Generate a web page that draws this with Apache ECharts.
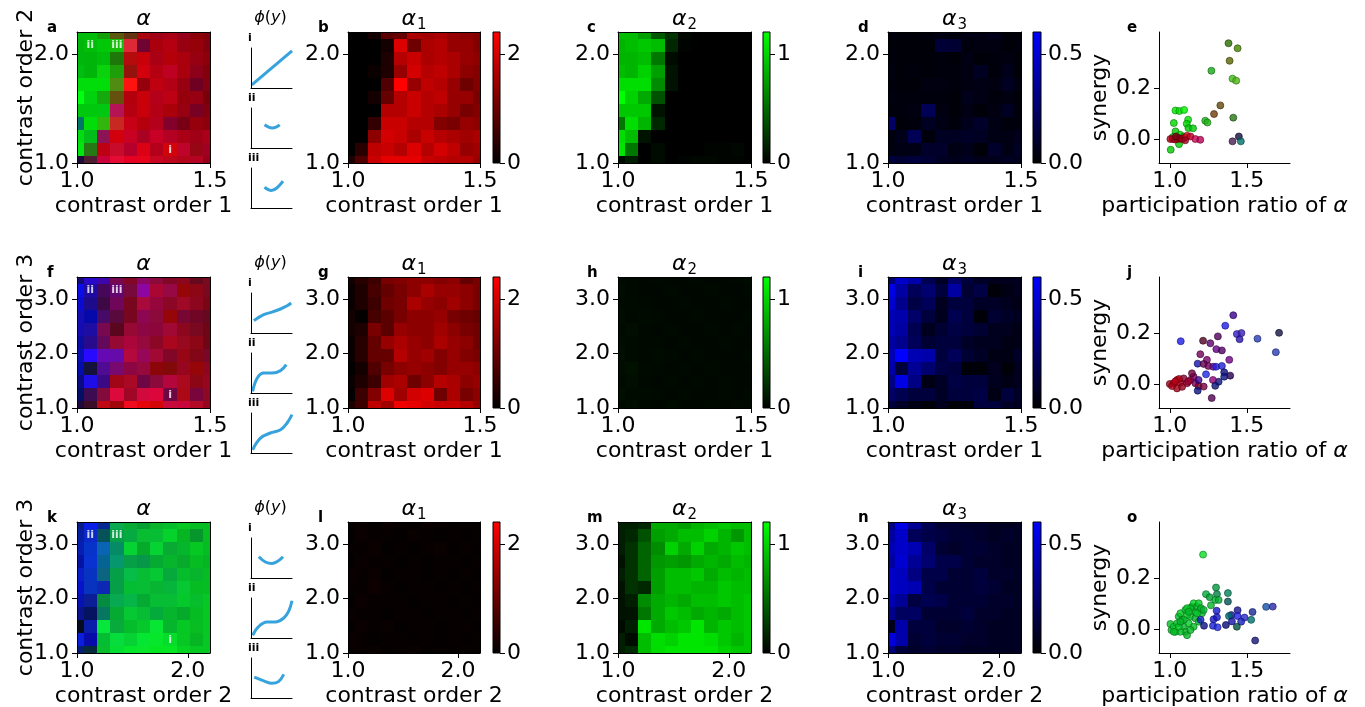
<!DOCTYPE html>
<html><head><meta charset="utf-8">
<script src="https://cdn.jsdelivr.net/npm/echarts@6/dist/echarts.min.js"></script>
<style>html,body{margin:0;padding:0;background:#fff}#c{width:1365px;height:707px}</style>
</head><body><div id="c"></div>
<script>
// ---------------- DATA ----------------
// matrices: rows listed from top (largest y) to bottom (y = 1.0); columns from x = 1.0 upward
const xStep = [0.05, 0.05, 0.12];
const yStep = [0.12, 0.24, 0.24];
const xMaxes = [1.5, 1.5, 2.2];
const yMaxes = [2.2, 3.4, 3.4];
const xTickVals = [[1.0, 1.5], [1.0, 1.5], [1.0, 2.0]];
const yTickVals = [[1.0, 2.0], [1.0, 2.0, 3.0], [1.0, 2.0, 3.0]];
const xNames = ['contrast order 1', 'contrast order 1', 'contrast order 2'];
const yNames = ['contrast order 2', 'contrast order 3', 'contrast order 3'];
const panelLetters = [['a','b','c','d','e'], ['f','g','h','i','j'], ['k','l','m','n','o']];
const channelMax = [2.4, 1.2, 0.6];
const cbTicks = [[0, 2], [0, 1], [0, 0.5]];
const scatterXTicks = [1.0, 1.5];
const scatterYTicks = [0.0, 0.2];
// marked cells: [label, column index, row index from bottom]
const markedCells = [['ii', 1, 9], ['iii', 3, 9], ['i', 7, 1]];

const alpha1_r1 = [
 [0,0,0.19,0.85,0.94,1.6,1.51,1.6,1.41,1.32,1.22],
 [0,0,0,0.19,2.07,1.04,1.6,1.69,1.41,1.41,1.22],
 [0,0,0,0.28,1.69,1.88,1.6,1.69,1.6,1.41,1.32],
 [0,0,0.09,0.28,1.41,1.98,1.69,1.79,1.6,1.32,1.22],
 [0,0,0,0.75,2.4,1.41,1.79,1.69,1.41,1.04,1.22],
 [0,0,0.19,0.94,1.69,1.88,1.69,1.79,1.41,1.41,1.13],
 [0,0,0,1.69,1.69,1.88,1.69,1.6,1.41,1.13,1.22],
 [0,0,0.47,1.88,1.88,1.69,1.69,1.22,1.13,1.41,1.32],
 [0,0,1.32,1.98,1.88,1.6,1.88,1.69,1.6,1.51,1.6],
 [0,0.38,1.79,1.88,1.69,2.07,1.69,1.98,1.79,1.41,1.51],
 [0.28,0.75,1.88,2.16,2.16,2.16,1.88,1.79,1.69,1.69,1.41]];
const alpha2_r1 = [
 [0.89,0.89,0.75,0.42,0.24,0.03,0,0,0,0,0],
 [0.85,0.89,0.94,0.89,0.19,0.02,0,0,0,0,0],
 [0.85,0.85,0.89,0.56,0.05,0,0,0,0,0,0],
 [0.89,0.85,0.99,0.75,0.09,0,0,0,0,0,0],
 [1.04,1.04,1.04,0.66,0.09,0,0,0,0,0,0],
 [1.2,0.99,0.8,0.38,0,0,0,0,0,0,0],
 [0.94,0.94,0.94,0.09,0,0,0,0,0,0,0],
 [0.56,1.04,0.85,0.19,0,0,0,0,0,0,0],
 [1.04,0.89,0.09,0,0,0,0,0,0,0,0],
 [1.08,0.56,0,0.05,0,0,0,0.02,0.02,0.03,0],
 [0.05,0.14,0,0.05,0,0.02,0.03,0.03,0.02,0.02,0]];
const alpha3_r1 = [
 [0.03,0.02,0.02,0.03,0.04,0.03,0.05,0.05,0.06,0.02,0.02],
 [0.02,0.02,0.02,0.02,0.13,0.12,0.03,0.04,0.04,0.02,0.03],
 [0.03,0.02,0.02,0.02,0.03,0.02,0.05,0.02,0.03,0.04,0.02],
 [0.04,0.02,0.03,0.02,0.03,0.03,0.04,0.08,0.03,0.06,0.02],
 [0.03,0.02,0.02,0.04,0.04,0.03,0.04,0.05,0.04,0.08,0.04],
 [0.04,0.03,0.03,0.03,0.03,0.02,0.06,0.05,0.03,0.04,0.02],
 [0.03,0.03,0.04,0.2,0.04,0.02,0.05,0.02,0.04,0.08,0.03],
 [0.24,0.02,0.03,0.08,0.05,0.03,0.06,0.1,0.05,0.03,0.03],
 [0.04,0.06,0.2,0.03,0.08,0.08,0.09,0.08,0.05,0.05,0.06],
 [0.04,0.05,0.05,0.1,0.1,0.05,0.06,0.02,0.1,0.05,0.08],
 [0.14,0.12,0.14,0.12,0.08,0.06,0.08,0.06,0.06,0.08,0.06]];

const alpha1_r2 = [
 [0.19,0.38,0.56,1.13,1.22,1.32,1.32,1.22,1.32,0.94,1.13],
 [0.09,0.28,0.66,0.94,1.13,1.32,1.6,1.41,1.41,1.32,1.13],
 [0.09,0.28,0.56,1.04,1.13,1.6,1.41,1.32,1.51,1.32,1.13],
 [0.19,0.05,0.66,0.85,1.13,1.32,1.32,1.41,1.13,1.04,0.94],
 [0.19,0.28,1.13,0.85,1.41,1.32,1.32,1.51,1.32,1.13,1.04],
 [0.09,0.38,0.94,1.41,1.6,1.41,1.32,1.6,1.41,1.32,1.04],
 [0.09,0.38,0.94,0.94,1.69,1.41,1.51,1.22,1.41,1.22,1.13],
 [0.03,0.19,0.75,1.13,1.32,1.41,1.32,1.22,1.41,1.41,1.32],
 [0.09,0.28,0.56,1.51,1.6,1.04,1.32,1.69,1.6,1.32,1.41],
 [0.03,0.56,1.22,2.07,1.51,1.98,2.07,1.04,1.6,1.13,1.32],
 [0.28,0.56,1.79,1.51,2.26,2.16,1.98,1.88,1.88,1.69,1.41]];
const alpha2_r2 = [
 [0.05,0.04,0.03,0.04,0.03,0.03,0.04,0.03,0.03,0.04,0.05],
 [0.06,0.04,0.03,0.03,0.04,0.03,0.03,0.04,0.03,0.03,0.04],
 [0.05,0.05,0.04,0.03,0.03,0.04,0.03,0.03,0.04,0.03,0.03],
 [0.06,0.04,0.05,0.04,0.03,0.03,0.04,0.03,0.03,0.03,0.04],
 [0.05,0.06,0.04,0.03,0.04,0.03,0.03,0.04,0.03,0.04,0.03],
 [0.06,0.05,0.04,0.04,0.03,0.04,0.03,0.03,0.04,0.03,0.03],
 [0.07,0.05,0.04,0.05,0.04,0.03,0.04,0.03,0.03,0.03,0.04],
 [0.06,0.08,0.05,0.04,0.03,0.04,0.03,0.04,0.03,0.03,0.03],
 [0.05,0.06,0.04,0.03,0.04,0.03,0.04,0.03,0.04,0.03,0.03],
 [0.07,0.05,0.05,0.04,0.03,0.04,0.03,0.03,0.04,0.03,0.04],
 [0.05,0.06,0.04,0.03,0.05,0.03,0.03,0.04,0.03,0.04,0.03]];
const alpha3_r2 = [
 [0.28,0.47,0.4,0.19,0.09,0.24,0.14,0.09,0.07,0.07,0.07],
 [0.54,0.38,0.21,0.26,0.14,0.38,0.12,0.16,0.02,0.05,0.07],
 [0.49,0.33,0.16,0.21,0.07,0.14,0.14,0.09,0.09,0.07,0.05],
 [0.42,0.4,0.24,0.14,0.07,0.19,0.14,0.02,0.12,0.09,0.07],
 [0.42,0.38,0.19,0.07,0.12,0.16,0.14,0.12,0.07,0.07,0.05],
 [0.38,0.33,0.21,0.12,0.14,0.14,0.09,0.07,0.07,0.05,0.05],
 [0.42,0.6,0.42,0.4,0.14,0.21,0.12,0.09,0.05,0.05,0.09],
 [0.4,0.14,0.35,0.26,0.16,0.14,0.02,0.02,0.07,0.02,0.07],
 [0.31,0.54,0.31,0.05,0.09,0.16,0.14,0.14,0.07,0.05,0.07],
 [0.24,0.19,0.14,0.14,0.09,0.14,0.14,0.16,0.05,0.14,0.09],
 [0.14,0.09,0.05,0.02,0.07,0.02,0.02,0.14,0.14,0.09,0.07]];

const alpha1_r3 = [
 [0.06,0.08,0.05,0.1,0.07,0.05,0.08,0.06,0.05,0.06,0.05],
 [0.05,0.1,0.07,0.06,0.05,0.08,0.06,0.05,0.07,0.05,0.06],
 [0.07,0.06,0.09,0.05,0.06,0.05,0.07,0.08,0.05,0.06,0.05],
 [0.05,0.08,0.06,0.07,0.05,0.06,0.05,0.06,0.07,0.05,0.06],
 [0.09,0.06,0.1,0.05,0.06,0.07,0.05,0.06,0.05,0.06,0.05],
 [0.06,0.07,0.12,0.06,0.05,0.06,0.07,0.05,0.06,0.05,0.06],
 [0.05,0.1,0.06,0.07,0.06,0.05,0.06,0.07,0.05,0.06,0.05],
 [0.08,0.06,0.07,0.05,0.06,0.07,0.05,0.06,0.06,0.05,0.06],
 [0.05,0.09,0.06,0.08,0.05,0.06,0.07,0.05,0.06,0.07,0.05],
 [0.1,0.07,0.05,0.06,0.07,0.05,0.06,0.05,0.07,0.05,0.06],
 [0.07,0.06,0.08,0.05,0.06,0.08,0.05,0.06,0.05,0.06,0.05]];
const alpha2_r3 = [
 [0.14,0.14,0.19,0.8,0.8,0.75,0.85,0.89,0.94,0.89,0.89],
 [0.14,0.19,0.38,0.75,0.8,0.89,0.89,0.99,0.85,0.71,0.89],
 [0.14,0.24,0.47,0.66,0.99,0.8,0.99,0.8,0.85,0.94,0.89],
 [0.09,0.24,0.47,0.71,0.75,0.71,0.8,0.85,0.8,0.89,0.85],
 [0.14,0.24,0.47,0.75,0.89,0.89,0.94,0.8,0.89,0.85,0.89],
 [0.09,0.24,0.19,0.75,0.89,0.89,0.85,0.85,0.94,0.89,0.89],
 [0.09,0.14,0.66,0.8,0.85,0.8,0.89,0.89,0.94,0.89,0.94],
 [0.09,0.09,0.56,0.8,0.94,0.89,0.8,0.85,0.8,0.89,0.94],
 [0.05,0.14,1.08,0.8,0.89,0.94,1.08,0.85,0.94,0.89,0.94],
 [0.14,0.05,0.89,1.04,0.99,1.08,1.08,1.04,0.94,0.85,0.94],
 [0.14,0.2,0.89,1.04,1.08,1.08,1.08,1.08,0.99,0.94,0.94]];
const alpha3_r3 = [
 [0.31,0.54,0.35,0.19,0.12,0.12,0.1,0.1,0.08,0.08,0.08],
 [0.38,0.47,0.21,0.17,0.15,0.12,0.12,0.1,0.08,0.1,0.08],
 [0.42,0.47,0.42,0.24,0.12,0.1,0.12,0.12,0.1,0.08,0.08],
 [0.38,0.49,0.35,0.26,0.17,0.17,0.12,0.1,0.1,0.08,0.08],
 [0.47,0.45,0.3,0.17,0.17,0.12,0.12,0.14,0.1,0.1,0.08],
 [0.47,0.45,0.42,0.17,0.12,0.12,0.12,0.14,0.12,0.08,0.08],
 [0.42,0.35,0.15,0.19,0.17,0.12,0.12,0.12,0.1,0.1,0.08],
 [0.33,0.22,0.23,0.12,0.12,0.12,0.14,0.1,0.1,0.08,0.08],
 [0.07,0.4,0.14,0.14,0.1,0.1,0.12,0.1,0.08,0.08,0.08],
 [0.52,0.4,0.12,0.14,0.12,0.12,0.1,0.1,0.08,0.08,0.08],
 [0.28,0.14,0.1,0.12,0.1,0.1,0.08,0.08,0.08,0.08,0.08]];

// scatter: [participation ratio, synergy, alpha1, alpha2, alpha3]
const scatter_e = [
 [1.381,0.376,0.38,0.52,0],[1.44,0.356,0.66,0.61,0],[1.388,0.307,0.85,0.47,0],[1.27,0.268,0.19,0.8,0.05],
 [1.407,0.237,0.56,0.89,0.05],[1.431,0.229,0.75,0.85,0.05],[1.328,0.132,0.94,0.33,0.02],[1.287,0.098,1.04,0.28,0.02],
 [1.412,0.084,0.38,0.56,0.05],[1.23,0.072,0.28,0.85,0.05],[1.244,0.065,0.28,0.85,0.05],[1.037,0.112,0,1.08,0],
 [1.062,0.11,0,1.04,0],[1.093,0.114,0,1.13,0],[1.026,0.063,0,1.0,0],[1.119,0.076,0,1.04,0],[1.11,0.06,0,1.0,0],
 [1.121,0.043,0,0.94,0],[1.151,0.042,0,0.94,0.02],[1.037,0.03,0,0.94,0],[1.067,0.017,0,0.99,0],[1.06,-0.02,0,0.94,0],
 [1.006,-0.042,0,0.94,0],[1.02,0.008,0.1,0.85,0],[1.09,0.01,0,0.89,0],[1.05,0.005,0,0.9,0],
 [1.004,0.0,1.6,0,0.05],[1.02,0.0,1.8,0,0.07],[1.035,-0.002,1.5,0,0.05],[1.05,0.0,1.7,0,0.05],[1.065,0.002,1.3,0,0.05],
 [1.08,0.0,1.6,0,0.05],[1.095,0.005,1.4,0,0.05],[1.112,0.013,2.0,0.1,0.09],[1.134,0.01,1.8,0,0.07],[1.166,0.0,1.9,0,0.19],
 [1.198,-0.003,1.7,0,0.19],[1.1,-0.005,1.5,0,0.07],[1.04,0.01,1.2,0,0.05],
 [1.448,0.01,0.19,0.05,0.14],[1.407,-0.009,0.66,0.14,0.19],[1.461,-0.009,0,0.52,0.24]];
const scatter_j = [
 [1.0,0,1.4,0,0.05],[1.025,0.003,1.5,0,0.05],[1.047,0.016,1.3,0,0.09],[1.069,0.005,1.6,0,0.07],[1.09,0.022,1.2,0,0.12],
 [1.112,0.003,1.4,0,0.14],[1.134,0.016,1.3,0,0.19],[1.155,0.029,1.2,0,0.21],[1.166,0.003,1.1,0,0.19],[1.187,-0.008,1.2,0,0.09],
 [1.047,-0.017,1.5,0,0.05],[1.08,-0.011,1.4,0,0.07],[1.015,-0.008,1.6,0,0.05],[1.144,0.042,1.0,0,0.14],[1.06,0.02,1.7,0,0.05],
 [1.12,0.01,1.5,0,0.1],[1.035,0.01,1.8,0,0.05],
 [1.412,0.27,0.56,0,0.33],[1.36,0.229,0.28,0.14,0.54],[1.435,0.196,0.47,0.14,0.47],[1.465,0.2,0.56,0.14,0.42],
 [1.453,0.176,0.38,0.09,0.4],[1.569,0.178,0.38,0.28,0.42],[1.709,0.201,0.19,0.09,0.16],[1.688,0.125,0.38,0.28,0.42],
 [1.071,0.168,0.28,0.14,0.54],[1.216,0.17,0.75,0,0.09],[1.312,0.187,0.75,0,0.21],[1.263,0.16,0.85,0,0.24],
 [1.302,0.137,0.94,0,0.31],[1.338,0.132,0.75,0,0.24],[1.198,0.117,1.04,0,0.21],[1.241,0.095,1.13,0,0.24],
 [1.386,0.095,1.04,0,0.31],[1.181,0.08,0.19,0.09,0.4],[1.22,0.079,0.94,0,0.19],[1.25,0.071,1.0,0,0.2],
 [1.282,0.068,1.13,0,0.31],[1.3,0.068,0.28,0.14,0.54],[1.338,0.071,0.28,0.14,0.5],[1.353,0.046,0.1,0.05,0.3],
 [1.235,0.038,0.28,0.19,0.54],[1.392,0.033,0.38,0,0.19],[1.353,0.029,0.09,0.09,0.3],[1.317,0.009,0.09,0.09,0.3],
 [1.28,0.016,1.32,0,0.28],[1.295,-0.007,0.09,0.09,0.28],[1.181,-0.026,0.09,0.09,0.3],[1.272,-0.055,0.75,0,0.19],
 [1.187,0.016,0.56,0,0.33],[1.22,-0.01,1.1,0,0.15]];
const scatter_o = [
 [1.004,0.02,0.05,0.89,0.09],[1.011,-0.004,0.05,0.85,0.09],[1.026,0.009,0.05,0.94,0.1],[1.047,0.022,0.05,0.89,0.09],
 [1.058,0.049,0.05,0.85,0.1],[1.069,0.062,0.05,0.94,0.09],[1.08,0.036,0.05,0.89,0.09],[1.091,0.009,0.05,0.85,0.1],
 [1.101,-0.011,0.05,0.89,0.09],[1.112,-0.024,0.05,0.85,0.09],[1.123,0.022,0.05,0.94,0.1],[1.134,0.049,0.05,0.89,0.09],
 [1.144,0.088,0.05,0.94,0.09],[1.155,0.101,0.05,0.99,0.09],[1.166,0.068,0.05,0.89,0.1],[1.177,0.088,0.05,0.85,0.09],
 [1.188,0.101,0.05,0.94,0.09],[1.198,0.075,0.05,0.89,0.1],[1.209,0.062,0.05,0.85,0.12],[1.155,0.009,0.05,0.89,0.09],
 [1.134,-0.004,0.05,0.85,0.09],[1.069,-0.011,0.05,0.89,0.1],[1.037,-0.011,0.05,0.94,0.09],[1.101,0.075,0.05,0.89,0.09],
 [1.112,0.055,0.05,0.94,0.09],[1.166,0.042,0.05,0.85,0.1],[1.188,0.029,0.05,0.89,0.09],[1.058,0.009,0.05,0.94,0.09],
 [1.091,0.036,0.05,0.89,0.1],[1.134,0.082,0.05,0.85,0.09],[1.177,0.062,0.05,0.94,0.09],[1.203,0.082,0.05,0.89,0.1],
 [1.22,0.075,0.05,0.85,0.12],[1.026,-0.011,0.05,0.89,0.09],[1.112,0.082,0.05,0.94,0.09],[1.069,0.029,0.05,0.85,0.1],
 [1.123,0.068,0.05,0.89,0.09],
 [1.216,0.292,0.1,1.04,0.09],[1.3,0.163,0,0.71,0.14],[1.235,0.137,0,0.8,0.14],[1.259,0.125,0,0.75,0.12],
 [1.306,0.137,0,0.61,0.16],[1.377,0.141,0,0.61,0.21],[1.295,0.114,0.05,0.85,0.12],[1.317,0.114,0.05,0.8,0.12],
 [1.377,0.108,0,0.38,0.19],[1.267,0.093,0.05,0.85,0.1],[1.625,0.087,0.19,0.38,0.4],[1.668,0.088,0.38,0.19,0.4],
 [1.537,0.067,0.19,0.19,0.35],[1.44,0.074,0.19,0.09,0.33],[1.304,0.072,0.19,0.09,0.47],[1.399,0.055,0.19,0.09,0.35],
 [1.384,0.051,0,0.52,0.26],[1.485,0.045,0.38,0.19,0.47],[1.44,0.051,0.28,0.14,0.54],[1.528,0.036,0,0.52,0.26],
 [1.463,0.029,0.19,0.14,0.45],[1.284,0.038,0.19,0.09,0.47],[1.306,0.046,0.19,0.09,0.45],[1.364,0.016,0.09,0.05,0.28],
 [1.435,0.009,0,0.38,0.14],[1.28,0.013,0.19,0.14,0.5],[1.222,0.013,0.09,0.09,0.31],[1.2,0.036,0.19,0.14,0.45],
 [1.31,0.007,0.28,0.19,0.52],[1.554,-0.045,0.19,0.09,0.28],[1.403,0.03,0.19,0.09,0.4]];

// phi(y) curves, in each small panel's own unit box
const phi_a_i = [[0.02,0.08],[1.0,0.93]];
const phi_a_ii = [[0.33,0.58],[0.43,0.52],[0.52,0.5],[0.61,0.52],[0.7,0.58]];
const phi_a_iii = [[0.33,0.52],[0.42,0.46],[0.5,0.44],[0.63,0.5],[0.78,0.67]];
const phi_f_i = [[0.07,0.31],[0.31,0.46],[0.51,0.52],[0.72,0.6],[0.88,0.68],[0.98,0.75]];
const phi_f_ii = [[0.04,0.04],[0.15,0.37],[0.31,0.5],[0.51,0.5],[0.72,0.56],[0.86,0.71]];
const phi_f_iii = [[0.04,0.08],[0.23,0.37],[0.47,0.5],[0.72,0.58],[0.88,0.75],[1.0,0.96]];
const phi_k_i = [[0.19,0.53],[0.35,0.4],[0.51,0.36],[0.67,0.43],[0.78,0.53]];
const phi_k_ii = [[0.04,0.07],[0.19,0.29],[0.39,0.4],[0.59,0.4],[0.8,0.5],[0.92,0.67],[1.0,0.93]];
const phi_k_iii = [[0.08,0.52],[0.31,0.43],[0.51,0.37],[0.67,0.41],[0.8,0.59]];

// ---------------- LAYOUT / BUILD ----------------
const FONT = 'DejaVu Sans';
const rowsDef = [
 {a:[alpha1_r1, alpha2_r1, alpha3_r1], sc: scatter_e, phi:[phi_a_i, phi_a_ii, phi_a_iii]},
 {a:[alpha1_r2, alpha2_r2, alpha3_r2], sc: scatter_j, phi:[phi_f_i, phi_f_ii, phi_f_iii]},
 {a:[alpha1_r3, alpha2_r3, alpha3_r3], sc: scatter_o, phi:[phi_k_i, phi_k_ii, phi_k_iii]}];
const ROW_TOP = [32, 277, 522], H = 131;
const L = {rgb:[77,133], phi:[251,41], h:[[348,132],[618,133],[888,133]], cb:[[493,7],[763,7],[1033,8]], sc:[1159,131]};
const PHI_TOP = [16, 76, 136], PHI_H = 40;
const LETTER_X = [47, 318, 587, 858, 1127];

const grid = [], xAxis = [], yAxis = [], series = [], texts = [];
const clamp = v => Math.max(0, Math.min(1, v));
function rgbOf(a1, a2, a3) {
  return 'rgb(' + Math.round(clamp(a1/channelMax[0])*255) + ',' + Math.round(clamp(a2/channelMax[1])*255) + ',' + Math.round(clamp(a3/channelMax[2])*255) + ')';
}
function darker(a1, a2, a3) {
  return 'rgb(' + Math.round(clamp(a1/channelMax[0])*150) + ',' + Math.round(clamp(a2/channelMax[1])*150) + ',' + Math.round(clamp(a3/channelMax[2])*150) + ')';
}
const axisText = {fontFamily: FONT, fontSize: 22, color: '#000'};
function addGrid(left, top, width, height) { grid.push({left, top, width, height, containLabel: false}); return grid.length - 1; }
function lineOnly(gi, pos, isX, min, max) {
  const o = {gridIndex: gi, type: 'value', min, max, position: pos, z: 10,
    axisLine: {show: true, onZero: false, lineStyle: {color: '#000', width: 1}},
    axisTick: {show: false}, axisLabel: {show: false}, splitLine: {show: false}};
  (isX ? xAxis : yAxis).push(o);
  return (isX ? xAxis : yAxis).length - 1;
}
function tickAxis(gi, pos, isX, min, max, ticks, fmt, margin) {
  const o = {gridIndex: gi, type: 'value', min, max, position: pos, z: 10,
    axisLine: {show: true, onZero: false, lineStyle: {color: '#000', width: 1}},
    axisTick: {show: true, length: 5, customValues: ticks, lineStyle: {color: '#000', width: 1}},
    axisLabel: Object.assign({customValues: ticks, formatter: fmt, margin: margin}, axisText),
    splitLine: {show: false}};
  (isX ? xAxis : yAxis).push(o);
  return (isX ? xAxis : yAxis).length - 1;
}
function cellSeries(xi, yi, data, dx, dy, colorFn) {
  return {type: 'custom', xAxisIndex: xi, yAxisIndex: yi, clip: true, silent: true, z: 2,
    data: data,
    renderItem: function (params, api) {
      const x = api.value(0), y = api.value(1);
      const p0 = api.coord([x - dx/2, y + dy/2]), p1 = api.coord([x + dx/2, y - dy/2]);
      const x0 = Math.round(p0[0]), x1 = Math.round(p1[0]), y0 = Math.round(p0[1]), y1 = Math.round(p1[1]);
      return {type: 'rect', shape: {x: x0, y: y0, width: x1 - x0, height: y1 - y0},
        style: {fill: colorFn(api.value(2), api.value(3), api.value(4))}};
    }};
}
function txt(x, y, text, opt) {
  texts.push({type: 'text', x, y, silent: true, z: 100, rotation: opt.rot || 0,
    style: Object.assign({text, fontFamily: FONT, fill: '#000', align: 'center', verticalAlign: 'middle'}, opt.style || {})});
}
const f1 = v => v.toFixed(1);
const subRich = {i: {fontStyle: 'italic', fontSize: 22, fontFamily: FONT, lineHeight: 28, verticalAlign: 'middle'},
                 n: {fontSize: 15, fontFamily: FONT, lineHeight: 15, verticalAlign: 'bottom', padding: [0, 0, 0, 1]}};

rowsDef.forEach((rd, r) => {
  const top = ROW_TOP[r], dyOff = top - ROW_TOP[0];
  const dx = xStep[r], dy = yStep[r], xMax = xMaxes[r], yMax = yMaxes[r];
  const n = rd.a[0].length;
  const cells = [];
  for (let i = 0; i < n; i++) for (let j = 0; j < n; j++) {
    cells.push([1.0 + j*dx, 1.0 + (n-1-i)*dy, rd.a[0][i][j], rd.a[1][i][j], rd.a[2][i][j]]);
  }
  // RGB composite heatmap
  const gRGB = addGrid(L.rgb[0], top, L.rgb[1], H);
  const xi = tickAxis(gRGB, 'bottom', true, 1.0, xMax, xTickVals[r], f1, 7);
  const yi = tickAxis(gRGB, 'left', false, 1.0, yMax, yTickVals[r], f1, 8);
  lineOnly(gRGB, 'top', true, 1.0, xMax); lineOnly(gRGB, 'right', false, 1.0, yMax);
  series.push(cellSeries(xi, yi, cells, dx, dy, (a, b, c) => rgbOf(a, b, c)));
  series.push({type: 'scatter', xAxisIndex: xi, yAxisIndex: yi, symbolSize: 0, silent: true, z: 5,
    data: markedCells.map(m => ({value: [1.0 + m[1]*dx, 1.0 + m[2]*dy], name: m[0]})),
    label: {show: true, position: 'inside', formatter: p => p.name, color: '#fff', fontWeight: 'bold', fontSize: 11, fontFamily: FONT}});
  txt(L.rgb[0] + L.rgb[1]/2, 19 + dyOff, 'α', {style: {fontSize: 22, fontStyle: 'italic'}});
  txt(L.rgb[0] + L.rgb[1]/2, 206 + dyOff, xNames[r], {style: {fontSize: 22}});
  txt(26, top + H/2, yNames[r], {rot: Math.PI/2, style: {fontSize: 22}});
  // phi panels
  const roman = ['i', 'ii', 'iii'];
  txt(L.phi[0] + L.phi[1]/2 - 1, 18 + dyOff, '{i|ϕ}{n|(}{i|y}{n|)}', {style: {fontSize: 16,
    rich: {i: {fontStyle: 'italic', fontSize: 16, fontFamily: FONT}, n: {fontSize: 16, fontFamily: FONT}}}});
  rd.phi.forEach((curve, k) => {
    const gp = addGrid(L.phi[0], top + PHI_TOP[k], L.phi[1], PHI_H);
    const px = lineOnly(gp, 'bottom', true, 0, 1);
    const py = lineOnly(gp, 'left', false, 0, 1);
    series.push({type: 'line', xAxisIndex: px, yAxisIndex: py, data: curve, smooth: 0.4, showSymbol: false,
      silent: true, clip: false, lineStyle: {color: '#37a3dc', width: 3}});
    txt(L.phi[0] - 3, top + PHI_TOP[k] - 10, roman[k], {style: {fontSize: 11, fontWeight: 'bold', align: 'left'}});
  });
  // single channel heatmaps + colorbars
  const titles = ['{i|α}{n|1}', '{i|α}{n|2}', '{i|α}{n|3}'];
  for (let ch = 0; ch < 3; ch++) {
    const g = addGrid(L.h[ch][0], top, L.h[ch][1], H);
    const hx = tickAxis(g, 'bottom', true, 1.0, xMax, xTickVals[r], f1, 7);
    const hy = tickAxis(g, 'left', false, 1.0, yMax, yTickVals[r], f1, 8);
    lineOnly(g, 'top', true, 1.0, xMax); lineOnly(g, 'right', false, 1.0, yMax);
    const chan = ch;
    series.push(cellSeries(hx, hy, cells, dx, dy, (a, b, c) => {
      const v = [a, b, c][chan];
      return rgbOf(chan === 0 ? v : 0, chan === 1 ? v : 0, chan === 2 ? v : 0);
    }));
    const cx = L.h[ch][0] + L.h[ch][1]/2;
    txt(cx, 19 + dyOff, titles[ch], {style: {rich: subRich}});
    txt(cx, 206 + dyOff, xNames[r], {style: {fontSize: 22}});
    // colorbar
    const gc = addGrid(L.cb[ch][0], top, L.cb[ch][1], H);
    const cbx = lineOnly(gc, 'bottom', true, 0, 1);
    xAxis[cbx].show = false;
    const cby = tickAxis(gc, 'right', false, 0, channelMax[ch], cbTicks[ch], ch === 2 ? f1 : (v => String(Math.round(v))), 7);
    yAxis[cby].axisLine.show = false;
    const topColor = ['#ff0000', '#00ff00', '#0000ff'][ch];
    series.push({type: 'custom', xAxisIndex: cbx, yAxisIndex: cby, silent: true, data: [[0, 0, 1, channelMax[ch]]],
      renderItem: function (params, api) {
        const p0 = api.coord([api.value(0), api.value(3)]), p1 = api.coord([api.value(2), api.value(1)]);
        return {type: 'rect', shape: {x: p0[0], y: p0[1], width: p1[0]-p0[0], height: p1[1]-p0[1]},
          style: {fill: new echarts.graphic.LinearGradient(0, 1, 0, 0, [{offset: 0, color: '#000'}, {offset: 1, color: topColor}]),
            stroke: '#000', lineWidth: 1}};
      }});
  }
  // scatter
  const gs = addGrid(L.sc[0], top, L.sc[1], H);
  const sx = tickAxis(gs, 'bottom', true, 0.93, 1.78, scatterXTicks, f1, 7);
  const sy = tickAxis(gs, 'left', false, -0.094, 0.42, scatterYTicks, f1, 8);
  series.push({type: 'scatter', xAxisIndex: sx, yAxisIndex: sy, symbolSize: 7, silent: true,
    data: rd.sc.map(p => ({value: [p[0], p[1]], itemStyle: {color: rgbOf(p[2], p[3], p[4]), borderColor: darker(p[2], p[3], p[4]), borderWidth: 0.8}}))});
  txt(L.sc[0] + L.sc[1]/2, 206 + dyOff, '{n|participation ratio of }{i|α}', {style: {fontSize: 22,
    rich: {i: {fontStyle: 'italic', fontSize: 22, fontFamily: FONT}, n: {fontSize: 22, fontFamily: FONT}}}});
  txt(1100, top + H/2, 'synergy', {rot: Math.PI/2, style: {fontSize: 22}});
  panelLetters[r].forEach((lt, k) => txt(LETTER_X[k], 28 + dyOff, lt, {style: {fontSize: 15, fontWeight: 'bold', align: 'left'}}));
});

const chart = echarts.init(document.getElementById('c'), null, {renderer: 'canvas'});
chart.setOption({animation: false, backgroundColor: '#fff', grid, xAxis, yAxis, series, graphic: texts});
</script></body></html>
